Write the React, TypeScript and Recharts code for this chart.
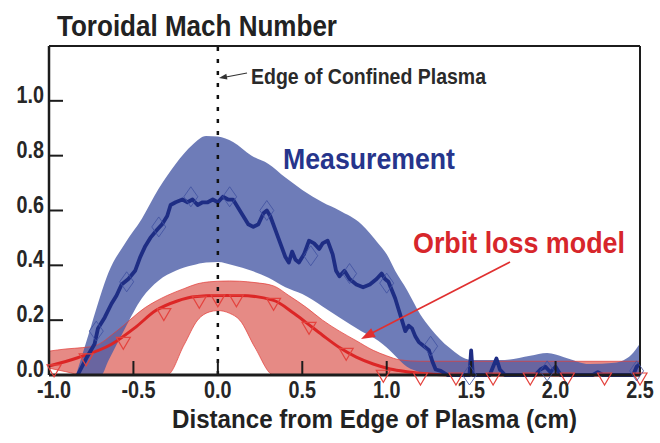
import React from 'react';
import {
  ComposedChart,
  Area,
  Line,
  Scatter,
  XAxis,
  YAxis,
  ReferenceLine,
} from 'recharts';

// uncertainty band of the measurement (blue)
const measBandX = [-0.84, -0.75, -0.69, -0.65, -0.55, -0.45, -0.35, -0.25, -0.15, -0.07, 0.0, 0.09, 0.2, 0.3, 0.4, 0.5, 0.62, 0.72, 0.85, 0.95, 1.0, 1.05, 1.12, 1.2, 1.26, 1.37, 1.5, 1.7, 1.85, 1.95, 2.05, 2.2, 2.35, 2.45, 2.5];
const measBandLo = [0, 0, 0, 0.05, 0.17, 0.28, 0.345, 0.38, 0.4, 0.41, 0.412, 0.4, 0.38, 0.355, 0.32, 0.295, 0.25, 0.21, 0.16, 0.125, 0.1, 0.07, 0.03, 0.01, 0, 0, 0, 0, 0, 0, 0, 0, 0, 0, 0];
const measBandHi = [0, 0.18, 0.3, 0.37, 0.48, 0.57, 0.68, 0.77, 0.84, 0.872, 0.87, 0.85, 0.8, 0.77, 0.72, 0.675, 0.63, 0.6, 0.55, 0.48, 0.44, 0.38, 0.31, 0.22, 0.17, 0.1, 0.055, 0.055, 0.07, 0.08, 0.065, 0.04, 0.045, 0.075, 0.115];

// orbit loss model band (red)
const modelBandX = [-1.0, -0.9, -0.8, -0.73, -0.6, -0.43, -0.3, -0.2, -0.12, -0.05, 0.0, 0.07, 0.13, 0.22, 0.33, 0.42, 0.525, 0.62, 0.72, 0.82, 0.92, 1.0, 1.08, 1.2, 2.5];
const modelBandLo = [0.025, 0.012, 0, 0, 0, 0, 0, 0.11, 0.2, 0.23, 0.235, 0.225, 0.2, 0.1, 0, 0, 0, 0, 0, 0, 0, 0, 0, 0, 0];
const modelBandHi = [0.087, 0.095, 0.1, 0.106, 0.16, 0.246, 0.29, 0.315, 0.333, 0.34, 0.342, 0.343, 0.342, 0.337, 0.325, 0.29, 0.246, 0.2, 0.16, 0.125, 0.09, 0.07, 0.055, 0.05, 0.05];

// measured toroidal Mach number
const measX = [-0.83, -0.78, -0.73, -0.71, -0.67, -0.63, -0.6, -0.57, -0.53, -0.49, -0.46, -0.43, -0.4, -0.36, -0.33, -0.3, -0.28, -0.25, -0.21, -0.18, -0.15, -0.12, -0.09, -0.06, -0.03, 0.0, 0.03, 0.06, 0.09, 0.12, 0.15, 0.18, 0.21, 0.24, 0.27, 0.29, 0.31, 0.34, 0.37, 0.4, 0.42, 0.44, 0.46, 0.48, 0.51, 0.54, 0.57, 0.6, 0.62, 0.65, 0.68, 0.7, 0.72, 0.75, 0.78, 0.82, 0.86, 0.9, 0.94, 0.97, 0.99, 1.01, 1.03, 1.05, 1.07, 1.09, 1.11, 1.13, 1.15, 1.17, 1.19, 1.21, 1.23, 1.25, 1.27, 1.29, 1.32, 1.36, 1.49, 1.5, 1.51, 1.61, 1.63, 1.65, 1.67, 1.7, 1.88, 1.91, 1.94, 1.97, 2.0, 2.03, 2.22, 2.25, 2.28, 2.46, 2.48, 2.5];
const measY = [0.0, 0.06, 0.113, 0.17, 0.21, 0.26, 0.29, 0.33, 0.35, 0.38, 0.43, 0.47, 0.5, 0.53, 0.55, 0.58, 0.62, 0.63, 0.64, 0.63, 0.64, 0.62, 0.63, 0.63, 0.64, 0.63, 0.65, 0.64, 0.64, 0.61, 0.58, 0.55, 0.54, 0.55, 0.59, 0.6, 0.58, 0.53, 0.48, 0.43, 0.41, 0.45, 0.42, 0.41, 0.44, 0.49, 0.48, 0.46, 0.48, 0.49, 0.44, 0.38, 0.36, 0.38, 0.35, 0.33, 0.32, 0.33, 0.35, 0.37, 0.35, 0.34, 0.31, 0.28, 0.24, 0.2, 0.16, 0.18, 0.17, 0.14, 0.12, 0.11, 0.1, 0.09, 0.05, 0.02, 0.015, 0.0, 0.0, 0.09, 0.0, 0.0, 0.03, 0.06, 0.02, 0.0, 0.0, 0.02, 0.03, 0.01, 0.03, 0.0, 0.0, 0.01, 0.0, 0.0, 0.03, 0.04];

// orbit loss model curve
const modelX = [-1.0, -0.83, -0.63, -0.49, -0.37, -0.24, -0.14, 0.0, 0.13, 0.33, 0.45, 0.525, 0.62, 0.72, 0.82, 0.92, 1.02, 1.12, 1.25, 1.4, 2.5];
const modelY = [0.033, 0.063, 0.112, 0.173, 0.234, 0.27, 0.285, 0.29, 0.29, 0.272, 0.225, 0.19, 0.145, 0.1, 0.065, 0.04, 0.022, 0.012, 0.004, 0, 0];

// symbols
const modelPtX = [-0.97, -0.78, -0.56, -0.32, -0.11, 0.0, 0.11, 0.33, 0.54, 0.76, 0.98, 1.2, 1.41, 1.63, 1.85, 2.07, 2.29, 2.5];
const modelPtY = [0.03, 0.07, 0.13, 0.235, 0.28, 0.285, 0.285, 0.272, 0.185, 0.09, 0.01, 0, 0, 0, 0, 0, 0, 0];
const measPtX = [-0.72, -0.54, -0.35, -0.16, 0.07, 0.29, 0.55, 0.78, 1.0, 1.26, 1.49, 1.95, 2.48];
const measPtY = [0.16, 0.34, 0.54, 0.65, 0.65, 0.6, 0.435, 0.37, 0.335, 0.105, 0, 0.015, 0.015];

const xTicks = [-1.0, -0.5, 0.0, 0.5, 1.0, 1.5, 2.0, 2.5];
const yTicks = [0.0, 0.2, 0.4, 0.6, 0.8, 1.0];

const measBand = measBandX.map((x, i) => ({ x, range: [measBandLo[i], measBandHi[i]] }));
const modelBand = modelBandX.map((x, i) => ({ x, range: [modelBandLo[i], modelBandHi[i]] }));
const measLine = measX.map((x, i) => ({ x, y: measY[i] }));
const modelLine = modelX.map((x, i) => ({ x, y: modelY[i] }));
const modelPts = modelPtX.map((x, i) => ({ x, y: modelPtY[i] }));
const measPts = measPtX.map((x, i) => ({ x, y: measPtY[i] }));

const FONT = "'Liberation Sans', Arial, sans-serif";
const AXIS = '#1c1c1c';

// condensed bold tick labels, like the original figure
const XTick = (props: any) => {
  const { x, y, payload } = props;
  const v = Number(payload.value);
  return (
    <g transform={`translate(${x + (v < 0 ? 5 : 0)},${y})`}>
      <text
        transform="scale(0.86,1)"
        textAnchor="middle"
        y={17}
        fontSize={23}
        fontWeight={700}
        fontFamily={FONT}
        fill="#262626"
      >
        {v.toFixed(1)}
      </text>
    </g>
  );
};

const YTick = (props: any) => {
  const { x, y, payload } = props;
  return (
    <g transform={`translate(${x},${y})`}>
      <text
        transform="scale(0.86,1)"
        textAnchor="end"
        y={2}
        fontSize={23}
        fontWeight={700}
        fontFamily={FONT}
        fill="#262626"
      >
        {Number(payload.value).toFixed(1)}
      </text>
    </g>
  );
};

const Triangle = (props: any) => {
  const { cx, cy } = props;
  if (cx == null || cy == null) return null;
  return (
    <path
      d={`M${cx - 7},${cy - 2} L${cx + 7},${cy - 2} L${cx},${cy + 10} Z`}
      fill="none"
      stroke="#e4433e"
      strokeWidth={1.2}
    />
  );
};

const Diamond = (props: any) => {
  const { cx, cy } = props;
  if (cx == null || cy == null) return null;
  return (
    <path
      d={`M${cx},${cy - 10} L${cx + 7},${cy} L${cx},${cy + 10} L${cx - 7},${cy} Z`}
      fill="none"
      stroke="#3f50a0"
      strokeOpacity={0.8}
      strokeWidth={1}
    />
  );
};

function arrowHead(x1: number, y1: number, x2: number, y2: number, len: number, half: number) {
  const dx = x2 - x1;
  const dy = y2 - y1;
  const d = Math.hypot(dx, dy);
  const ux = dx / d;
  const uy = dy / d;
  const bx = x2 - ux * len;
  const by = y2 - uy * len;
  return `${x2},${y2} ${bx - uy * half},${by + ux * half} ${bx + uy * half},${by - ux * half}`;
}

export default function App() {
  return (
    <div style={{ position: 'absolute', left: 0, top: 0, width: 660, height: 443, background: '#fff' }}>
      <ComposedChart width={660} height={443} margin={{ top: 16, right: 0, bottom: 0, left: 0 }}>
        <XAxis
          xAxisId="x"
          dataKey="x"
          type="number"
          domain={[-1, 2.5]}
          ticks={xTicks}
          height={68}
          tickSize={-14}
          tickMargin={20}
          tick={<XTick />}
          axisLine={{ stroke: AXIS, strokeWidth: 3 }}
          tickLine={{ stroke: AXIS, strokeWidth: 2 }}
        />
        <XAxis
          xAxisId="xt"
          orientation="top"
          dataKey="x"
          type="number"
          domain={[-1, 2.5]}
          ticks={xTicks}
          tickFormatter={() => ''}
          height={30}
          tickSize={-14}
          axisLine={{ stroke: AXIS, strokeWidth: 2 }}
          tickLine={{ stroke: AXIS, strokeWidth: 2 }}
        />
        <YAxis
          yAxisId="y"
          type="number"
          domain={[0, 1.2]}
          ticks={yTicks}
          width={49}
          tickSize={-14}
          tickMargin={19}
          tick={<YTick />}
          axisLine={{ stroke: AXIS, strokeWidth: 2.5 }}
          tickLine={{ stroke: AXIS, strokeWidth: 2 }}
        />
        <YAxis
          yAxisId="yr"
          orientation="right"
          type="number"
          domain={[0, 1.2]}
          ticks={yTicks}
          tickFormatter={() => ''}
          width={20}
          tickSize={-14}
          axisLine={{ stroke: AXIS, strokeWidth: 2 }}
          tickLine={{ stroke: AXIS, strokeWidth: 2 }}
        />

        <Area
          xAxisId="x"
          yAxisId="y"
          data={modelBand}
          dataKey="range"
          type="monotone"
          fill="#e4807b"
          fillOpacity={0.92}
          stroke="none"
          isAnimationActive={false}
        />
        <Area
          xAxisId="x"
          yAxisId="y"
          data={measBand}
          dataKey="range"
          type="monotone"
          fill="#4a5ba6"
          fillOpacity={0.8}
          stroke="none"
          isAnimationActive={false}
        />
        <Area
          xAxisId="x"
          yAxisId="y"
          data={modelBand}
          dataKey="range"
          type="monotone"
          fill="none"
          stroke="#e23b36"
          strokeOpacity={0.7}
          strokeWidth={1}
          isAnimationActive={false}
        />
        <Line
          xAxisId="x"
          yAxisId="y"
          data={modelLine}
          dataKey="y"
          type="monotone"
          stroke="#dc2626"
          strokeWidth={3}
          dot={false}
          activeDot={false}
          isAnimationActive={false}
        />
        <Scatter
          xAxisId="x"
          yAxisId="y"
          data={modelPts}
          dataKey="y"
          shape={Triangle}
          isAnimationActive={false}
        />
        <Scatter
          xAxisId="x"
          yAxisId="y"
          data={measPts}
          dataKey="y"
          shape={Diamond}
          isAnimationActive={false}
        />
        <Line
          xAxisId="x"
          yAxisId="y"
          data={measLine}
          dataKey="y"
          type="linear"
          stroke="#1e2d84"
          strokeWidth={3.8}
          strokeLinejoin="round"
          dot={false}
          activeDot={false}
          isAnimationActive={false}
        />
        <ReferenceLine
          xAxisId="x"
          yAxisId="y"
          x={0}
          stroke="#111"
          strokeWidth={2.5}
          strokeDasharray="4 8"
        />
      </ComposedChart>

      <svg
        width={660}
        height={443}
        style={{ position: 'absolute', left: 0, top: 0, pointerEvents: 'none' }}
        fontFamily={FONT}
        fontWeight={700}
      >
        <text x={57} y={36} fontSize={30} fill="#222" textLength={280} lengthAdjust="spacingAndGlyphs">
          Toroidal Mach Number
        </text>
        <text x={251} y={84} fontSize={22} fill="#2a2a2a" textLength={235} lengthAdjust="spacingAndGlyphs">
          Edge of Confined Plasma
        </text>
        <line x1={247} y1={73} x2={226} y2={77} stroke="#333" strokeWidth={1.2} />
        <polygon points={arrowHead(247, 73, 219, 78, 8, 3)} fill="#333" />
        <text x={283} y={169} fontSize={30} fill="#26358c" textLength={172} lengthAdjust="spacingAndGlyphs">
          Measurement
        </text>
        <text x={413} y={253} fontSize={30} fill="#d7262b" textLength={212} lengthAdjust="spacingAndGlyphs">
          Orbit loss model
        </text>
        <line x1={510} y1={262} x2={372} y2={333} stroke="#e03030" strokeWidth={1.6} />
        <polygon points={arrowHead(510, 262, 361, 339, 14, 5)} fill="#e03030" />
        <text x={172} y={428} fontSize={26} fill="#222" textLength={405} lengthAdjust="spacingAndGlyphs">
          Distance from Edge of Plasma (cm)
        </text>
      </svg>
    </div>
  );
}
